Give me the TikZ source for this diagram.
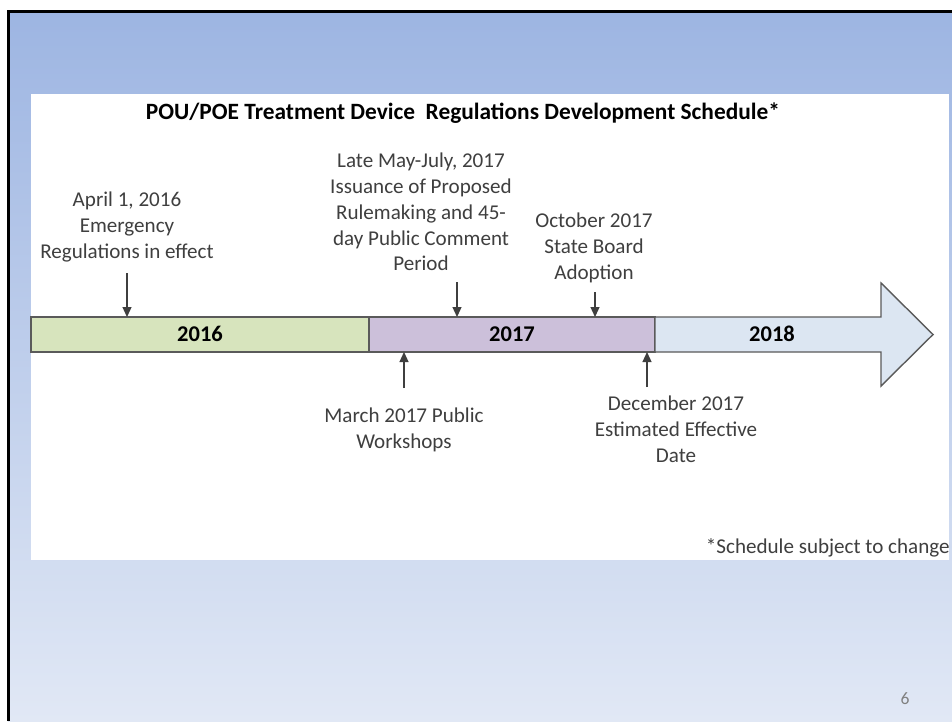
\documentclass[tikz,border=0pt]{standalone}
\usepackage{fontspec}
\setmainfont{Carlito}
\usetikzlibrary{arrows.meta}
\definecolor{slideTop}{HTML}{9DB5E2}
\definecolor{slideBottom}{HTML}{E1E8F5}
\definecolor{yearA}{HTML}{D7E4BD}
\definecolor{yearB}{HTML}{CCC0DA}
\definecolor{yearC}{HTML}{DCE6F2}
\definecolor{rim}{HTML}{5A5A5A}
\definecolor{ink}{HTML}{3F3F3F}
\newcommand{\barpart}[3]
{   \draw[rim, line width=0.8pt, fill=#1] (#2,317) rectangle (#3,352);
}
\begin{document}
\begin{tikzpicture}[x=0.02cm, y=-0.02cm,
    note/.style={text=ink, align=center, font=\fontsize{12}{14.7}\selectfont, inner sep=0pt},
    year/.style={font=\bfseries\fontsize{12.8}{15}\selectfont, inner sep=0pt, anchor=base},
    tick/.style={ink, line width=0.7pt, -{Triangle[length=0.2cm, width=0.18cm]}}]
          \useasboundingbox (0,0) rectangle (952,721);
          \fill[white] (0,0) rectangle (952,721);
          \shade[top color=slideTop, bottom color=slideBottom] (8,11) rectangle (952,721);
          \draw[black, line width=1.7pt] (8.5,721) -- (8.5,11.5) -- (952,11.5);
          \fill[white] (31,94) rectangle (949,560);
          \node[font=\bfseries\fontsize{13.3}{16}\selectfont, text=black] (title) at (463,113) {POU/POE Treatment Device\ \ Regulations Development Schedule*};
          % timeline bar
          \barpart{yearA}{31}{369}
          \barpart{yearB}{369}{655}
          \draw[rim, line width=0.8pt, fill=yearC] (655,317) -- (881,317) -- (881,283) -- (933,334.5) -- (881,386) -- (881,352) -- (655,352) -- cycle;
          \node[year] (y16) at (200,341) {2016};
          \node[year] (y17) at (512,341) {2017};
          \node[year] (y18) at (772,341) {2018};
          % milestones above
          \node[note] (apr) at (127,227) {April 1, 2016\\Emergency\\Regulations in effect};
          \node[note] (may) at (421,212) {Late May-July, 2017\\Issuance of Proposed\\Rulemaking and 45-\\day Public Comment\\Period};
          \node[note] (oct) at (594,248) {October 2017\\State Board\\Adoption};
          \coordinate (aprA) at (127,273);  \coordinate (aprB) at (127,317);
          \coordinate (mayA) at (457,282);  \coordinate (mayB) at (457,317);
          \coordinate (octA) at (595,292);  \coordinate (octB) at (595,317);
          \draw[tick] (aprA) -- (aprB);
          \draw[tick] (mayA) -- (mayB);
          \draw[tick] (octA) -- (octB);
          % milestones below
          \node[note] (mar) at (404,429.5) {March 2017 Public\\Workshops};
          \node[note] (dec) at (676,429) {December 2017\\Estimated Effective\\Date};
          \coordinate (marA) at (404,388);  \coordinate (marB) at (404,352);
          \coordinate (decA) at (647,387);  \coordinate (decB) at (647,352);
          \draw[tick] (marA) -- (marB);
          \draw[tick] (decA) -- (decB);
          \node[note, anchor=east] (chg) at (950,548) {*Schedule subject to change};
          \node[text=gray, font=\fontsize{10}{12}\selectfont] (pg) at (905,699) {6};
        \end{tikzpicture}
\end{document}
